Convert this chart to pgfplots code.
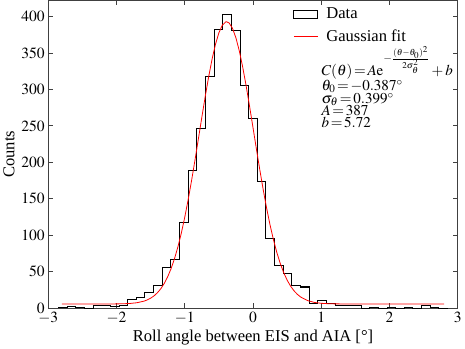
\documentclass[border=0pt]{standalone}
\usepackage{mathptmx}
\usepackage{fontspec}
\setmainfont{Liberation Serif}
\usepackage{pgfplots}
\pgfplotsset{compat=1.18}
\tikzset{eq/.style={anchor=base west, inner sep=0pt, font=\fontsize{15}{16}\selectfont}}

\begin{document}
\begin{tikzpicture}
\begin{axis}[
  scale only axis, width=408pt, height=306.6pt,
  xmin=-3, xmax=3, ymin=0, ymax=422,
  xtick={-3,...,3}, ytick={0,50,...,400},
  tick align=inside, major tick length=5pt,
  axis line style={black!75, line width=0.8pt},
  tick style={black!75, line width=0.7pt},
  tick label style={font=\fontsize{15.5}{17}\selectfont},
  label style={font=\fontsize{16.5}{19}\selectfont},
  xlabel={Roll angle between EIS and AIA [°]},
  ylabel={Counts},
  legend style={draw=none, fill=none, at={(0.598,0.98)}, anchor=north west,
    font=\fontsize{16.5}{19}\selectfont, row sep=8pt, inner sep=0pt,
    nodes={inner sep=1pt},
    /tikz/every odd column/.append style={column sep=7pt}},
  legend cell align=left,
]
% histogram, 45 bins from -2.85 to 2.85
\addplot[const plot, black, line width=1pt,
  legend image code/.code={\draw[draw=black, line width=0.8pt, fill=white] (0pt,-4pt) rectangle (24pt,4pt);}]
coordinates {
(-2.85,0)(-2.85,1)(-2.7233,2)(-2.5967,1)(-2.47,0)(-2.3433,4)(-2.2167,3)(-2.09,2)(-1.9633,4)
(-1.8367,12)(-1.71,15)(-1.5833,21)(-1.4567,31)(-1.33,56)(-1.2033,67)(-1.0767,118)(-0.95,189)
(-0.8233,246)(-0.6967,317)(-0.57,382)(-0.4433,402)(-0.3167,381)(-0.19,305)(-0.0633,260)
(0.0633,173)(0.19,95)(0.3167,59)(0.4433,47)(0.57,31)(0.6967,29)(0.8233,7)(0.95,10)
(1.0767,6)(1.2033,4)(1.33,3)(1.4567,3)(1.5833,0)(1.71,1)(1.8367,0)(1.9633,1)(2.09,0)
(2.2167,1)(2.3433,0)(2.47,3)(2.5967,1)(2.7233,0)(2.85,0)
};
\addlegendentry{Data}
% Gaussian fit
\addplot[red, line width=0.8pt,
  legend image code/.code={\draw[draw=red, line width=0.9pt] (0pt,0pt) -- (24pt,0pt);}]
coordinates {
(-2.8,5.72)(-2.4,5.72)(-2.2,5.73)(-2.0,5.83)(-1.9,6.01)(-1.8,6.45)(-1.7,7.44)(-1.6,9.53)
(-1.55,11.25)(-1.5,13.63)(-1.45,16.85)(-1.4,21.14)(-1.35,26.74)(-1.3,33.94)(-1.25,43.03)
(-1.2,54.26)(-1.15,67.90)(-1.1,84.12)(-1.05,103.03)(-1.0,124.62)(-0.95,148.72)(-0.9,175.06)
(-0.85,203.11)(-0.8,232.22)(-0.75,261.57)(-0.7,290.22)(-0.65,317.16)(-0.6,341.33)
(-0.55,361.74)(-0.5,377.51)(-0.45,387.92)(-0.4,392.51)(-0.387,392.72)(-0.35,391.06)
(-0.3,383.63)(-0.25,370.57)(-0.2,352.47)(-0.15,330.13)(-0.1,304.50)(-0.05,276.62)
(0,247.50)(0.05,218.16)(0.1,189.47)(0.15,162.16)(0.2,136.85)(0.25,113.93)(0.3,93.62)
(0.35,76.01)(0.4,61.04)(0.45,48.58)(0.5,38.42)(0.55,30.27)(0.6,23.87)(0.65,18.93)
(0.7,15.18)(0.8,10.35)(0.9,7.85)(1.0,6.64)(1.1,6.09)(1.2,5.86)(1.4,5.74)(1.6,5.72)(2.8,5.72)
};
\addlegendentry{Gaussian fit}
% fit parameters, one line per node
\node[eq] at (rel axis cs:0.667,0.757)
  {\thickmuskip=2mu $C(\theta)=A\mathrm{e}^{-\frac{(\theta-\theta_0)^2}{2\sigma_\theta^2}}+b$};
\node[eq] at (rel axis cs:0.667,0.707) {\thickmuskip=2mu $\theta_0=-0.387^\circ$};
\node[eq] at (rel axis cs:0.667,0.665) {\thickmuskip=2mu $\sigma_\theta=0.399^\circ$};
\node[eq] at (rel axis cs:0.667,0.626) {\thickmuskip=2mu $A=387$};
\node[eq] at (rel axis cs:0.667,0.587) {\thickmuskip=2mu $b=5.72$};
\end{axis}
\end{tikzpicture}
\end{document}
